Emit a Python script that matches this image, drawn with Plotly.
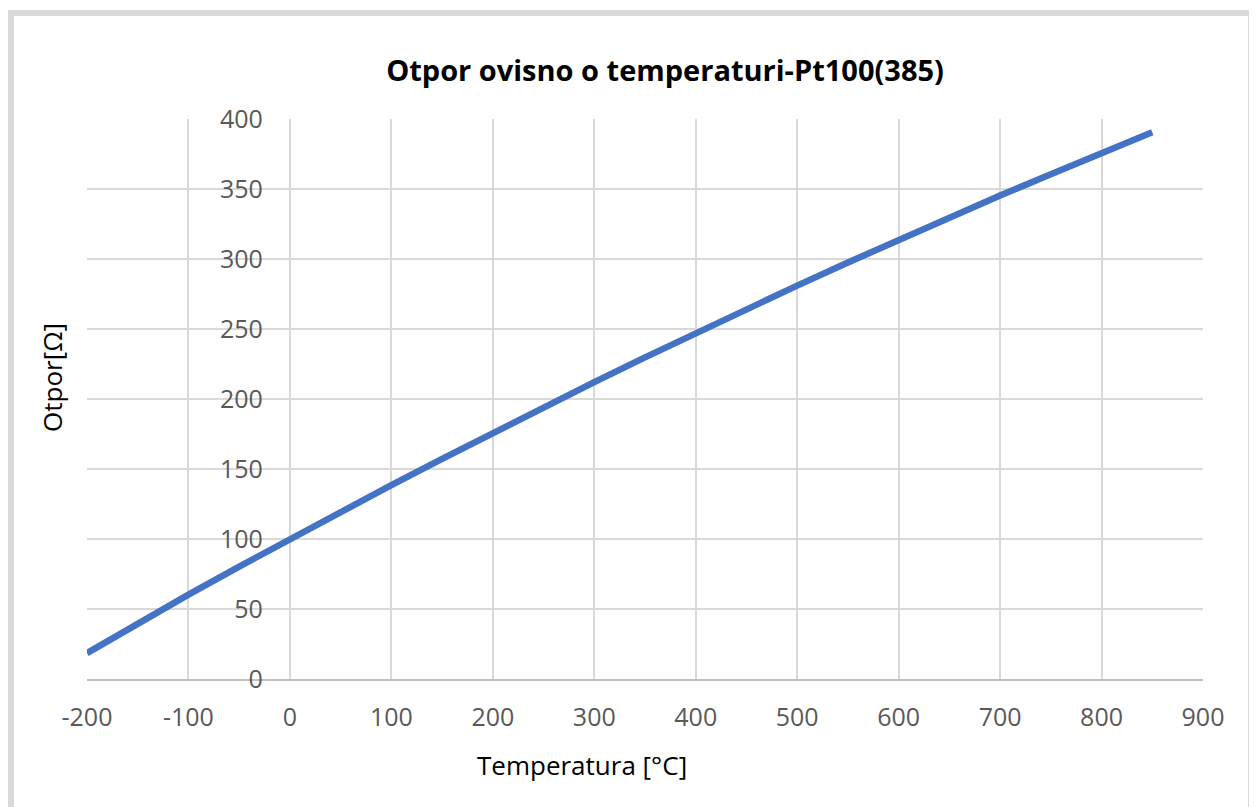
import plotly.graph_objects as go

temperature_c = [-200, -150, -100, -50, 0, 50, 100, 150, 200, 250, 300, 350,
                 400, 450, 500, 550, 600, 650, 700, 750, 800, 850]
resistance_ohm = [18.5, 39.7, 60.3, 80.3, 100.0, 119.4, 138.5, 157.3, 175.9, 194.1,
                  212.1, 229.7, 247.1, 264.2, 281.0, 297.5, 313.7, 329.6, 345.3,
                  360.6, 375.7, 390.5]

x_ticks = [-200, -100, 0, 100, 200, 300, 400, 500, 600, 700, 800, 900]
x_tick_labels = ["-200", "-100", "0", "100", "200", "300", "400", "500", "600",
                 "700", "800", "900"]
y_ticks = [0, 50, 100, 150, 200, 250, 300, 350, 400]

W, H = 1257, 807
OFF = 8  # page body margin
# desired on-screen plot box
SL, SR, ST, SB = 87, 1203, 119, 679
pw, ph = SR - SL, SB - ST
L, T = SL - OFF, ST - OFF
R, B = W - (SR - OFF), H - (SB - OFF)

def px_x(p):
    return (p - SL) / pw

def px_y(p):
    return (SB - p) / ph

FONT = "Open Sans"
TICK_COLOR = "#595959"

fig = go.Figure()
fig.add_trace(go.Scatter(
    x=temperature_c, y=resistance_ohm, mode="lines",
    line=dict(color="#4472C4", width=6.5), hoverinfo="skip", showlegend=False,
))

x0_frac = (0 - x_ticks[0]) / (x_ticks[-1] - x_ticks[0])

fig.update_layout(
    width=W, height=H,
    margin=dict(l=L, r=R, t=T, b=B),
    paper_bgcolor="white", plot_bgcolor="white",
    font=dict(family=FONT, color=TICK_COLOR, size=25),
    title=dict(
        text="<b>Otpor ovisno o temperaturi-Pt100(385)</b>",
        x=(665 - OFF) / W, xref="container", xanchor="center",
        y=1 - (71 - OFF) / H, yref="container", yanchor="middle",
        font=dict(family=FONT, size=29, color="#000000"),
    ),
    xaxis=dict(
        range=[x_ticks[0], x_ticks[-1]], tickvals=x_ticks, ticktext=x_tick_labels,
        showgrid=True, gridcolor="#D9D9D9", gridwidth=1.5,
        zeroline=False, showline=True, linecolor="#BFBFBF", linewidth=1.5,
        ticks="", ticklabelstandoff=15,
        tickfont=dict(family=FONT, size=25, color=TICK_COLOR),
        fixedrange=True,
    ),
    yaxis=dict(
        range=[y_ticks[0], y_ticks[-1]], tickvals=y_ticks,
        anchor="free", position=x0_frac,
        showgrid=True, gridcolor="#D9D9D9", gridwidth=1.5,
        zeroline=False, showline=False,
        ticks="", ticklabelstandoff=27,
        tickfont=dict(family=FONT, size=25, color=TICK_COLOR),
        fixedrange=True,
    ),
    annotations=[
        dict(text="Temperatura [°C]", xref="paper", yref="paper",
             x=px_x(582), y=px_y(765), xanchor="center", yanchor="middle",
             showarrow=False, font=dict(family=FONT, size=26, color="#000000")),
        dict(text="Otpor[Ω]", xref="paper", yref="paper",
             x=px_x(52), y=px_y(378), xanchor="center", yanchor="middle",
             textangle=-90, showarrow=False,
             font=dict(family=FONT, size=26, color="#000000")),
    ],
    shapes=[
        dict(type="rect", xref="paper", yref="paper",
             x0=px_x(11), x1=px_x(1251), y0=px_y(840), y1=px_y(13),
             line=dict(color="#D9D9D9", width=6), layer="below"),
    ],
)

fig.write_html("out.html")
